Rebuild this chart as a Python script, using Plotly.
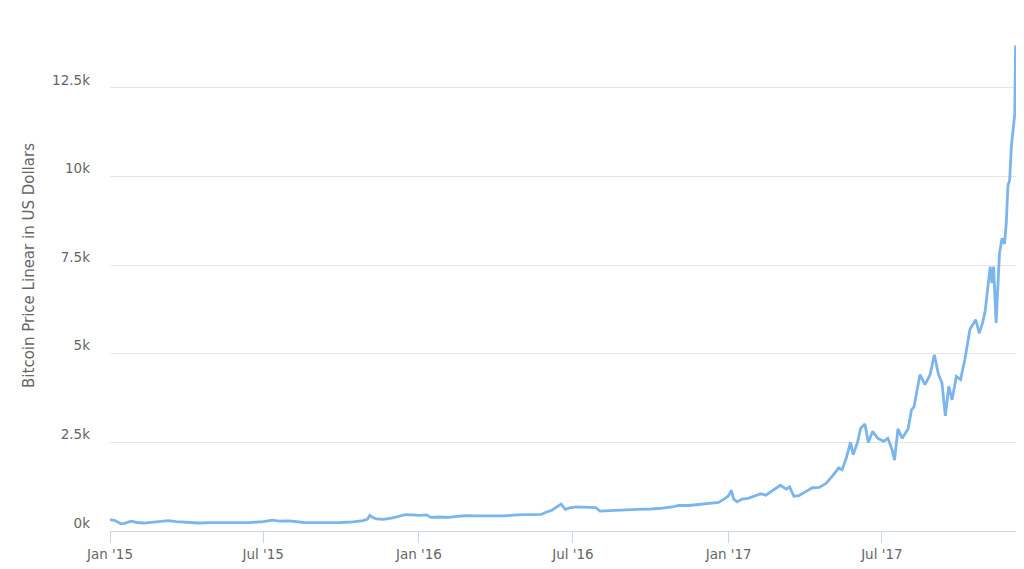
import plotly.graph_objects as go

dates = [
    "2015-01-01", "2015-01-07", "2015-01-14", "2015-01-18", "2015-01-26", "2015-02-02",
    "2015-02-10", "2015-02-20", "2015-03-01", "2015-03-11", "2015-03-20", "2015-04-01",
    "2015-04-15", "2015-05-01", "2015-05-15", "2015-06-01", "2015-06-15", "2015-07-01",
    "2015-07-12", "2015-07-20", "2015-08-01", "2015-08-18", "2015-09-01", "2015-09-15",
    "2015-10-01", "2015-10-15", "2015-10-27", "2015-11-01", "2015-11-04", "2015-11-07",
    "2015-11-12", "2015-11-20", "2015-12-01", "2015-12-10", "2015-12-16", "2015-12-25",
    "2016-01-01", "2016-01-10", "2016-01-15", "2016-01-25", "2016-02-05", "2016-02-15",
    "2016-02-25", "2016-03-10", "2016-03-25", "2016-04-10", "2016-04-25", "2016-05-10",
    "2016-05-25", "2016-05-30", "2016-06-06", "2016-06-12", "2016-06-17", "2016-06-22",
    "2016-06-27", "2016-07-05", "2016-07-15", "2016-07-28", "2016-08-02", "2016-08-15",
    "2016-09-01", "2016-09-15", "2016-10-01", "2016-10-15", "2016-10-28", "2016-11-03",
    "2016-11-15", "2016-11-28", "2016-12-10", "2016-12-20", "2016-12-27",
    "2017-01-01", "2017-01-04", "2017-01-07", "2017-01-11", "2017-01-17", "2017-01-24",
    "2017-02-01", "2017-02-08", "2017-02-14", "2017-02-24", "2017-03-03", "2017-03-10",
    "2017-03-14", "2017-03-19", "2017-03-25", "2017-04-02", "2017-04-10", "2017-04-18",
    "2017-04-26", "2017-05-04", "2017-05-11", "2017-05-15", "2017-05-20", "2017-05-25",
    "2017-05-28", "2017-06-02", "2017-06-06", "2017-06-11", "2017-06-15", "2017-06-20",
    "2017-06-26", "2017-07-03", "2017-07-08", "2017-07-13", "2017-07-16", "2017-07-20",
    "2017-07-25", "2017-08-01", "2017-08-05", "2017-08-08", "2017-08-15", "2017-08-21",
    "2017-08-27", "2017-09-01", "2017-09-06", "2017-09-10", "2017-09-14", "2017-09-18",
    "2017-09-22", "2017-09-27", "2017-10-02", "2017-10-07", "2017-10-13", "2017-10-15",
    "2017-10-20", "2017-10-24", "2017-10-28", "2017-10-31", "2017-11-04", "2017-11-06",
    "2017-11-08", "2017-11-10", "2017-11-13", "2017-11-17", "2017-11-20", "2017-11-23",
    "2017-11-25", "2017-11-27", "2017-11-29", "2017-12-01", "2017-12-03", "2017-12-05",
    "2017-12-06",
]

prices = [
    320, 295, 200, 215, 275, 240,
    225, 250, 262, 295, 265, 250,
    225, 235, 240, 228, 240, 262,
    305, 280, 285, 240, 232, 235,
    240, 258, 295, 330, 440, 385,
    340, 330, 370, 420, 460, 455,
    440, 455, 385, 395, 385, 410,
    430, 425, 420, 425, 455, 460,
    470, 530, 585, 680, 760, 610,
    650, 680, 670, 660, 560, 580,
    585, 610, 620, 645, 690, 725,
    720, 745, 775, 805, 905,
    1000, 1150, 900, 820, 900, 920,
    980, 1050, 1010, 1170, 1290, 1180,
    1245, 980, 1000, 1110, 1220, 1230,
    1340, 1560, 1780, 1730, 2060, 2500,
    2150, 2480, 2900, 3020, 2500, 2810,
    2620, 2530, 2620, 2300, 2000, 2880,
    2620, 2880, 3420, 3500, 4410, 4130,
    4410, 4970, 4410, 4180, 3250, 4080,
    3700, 4360, 4270, 4830, 5680, 5770,
    5960, 5580, 5870, 6190, 7135, 7460,
    6990, 7460, 5870, 7840, 8260, 8100,
    8700, 9750, 9900, 10850, 11300, 11750,
    13700,
]

y_tick_values = [0, 2500, 5000, 7500, 10000, 12500]
y_tick_labels = ["0k", "2.5k", "5k", "7.5k", "10k", "12.5k"]
x_tick_values = ["2015-01-01", "2015-07-01", "2016-01-01", "2016-07-01", "2017-01-01", "2017-07-01"]
x_tick_labels = ["Jan '15", "Jul '15", "Jan '16", "Jul '16", "Jan '17", "Jul '17"]

fig = go.Figure()
fig.add_trace(go.Scatter(
    x=dates, y=prices, mode="lines",
    line=dict(color="#7cb5ec", width=2.8),
    hoverinfo="skip", showlegend=False,
))

font_family = "DejaVu Sans, Open Sans, sans-serif"

fig.update_layout(
    width=1024, height=569,
    margin=dict(l=110, r=8, t=0, b=38, autoexpand=False),
    paper_bgcolor="white", plot_bgcolor="white",
    font=dict(family=font_family, color="#666666", size=13),
    xaxis=dict(
        range=["2015-01-01", "2017-12-06 12:00"],
        tickvals=x_tick_values, ticktext=x_tick_labels,
        showgrid=False, zeroline=False, automargin=False,
        showline=True, linecolor="#ccd6eb", linewidth=1,
        ticks="outside", ticklen=11, tickcolor="#ccd6eb", tickwidth=1,
        tickfont=dict(size=13.5, color="#666666"),
    ),
    yaxis=dict(
        range=[0, 14980],
        tickvals=y_tick_values, ticktext=y_tick_labels,
        showgrid=True, gridcolor="#e6e6e6", gridwidth=1,
        zeroline=False, showline=False, automargin=False,
        ticks="", ticklabelstandoff=19, ticklabelshift=-8,
        tickfont=dict(size=13.5, color="#666666"),
        title=dict(text="Bitcoin Price Linear in US Dollars",
                   font=dict(size=15, color="#666666"), standoff=13),
    ),
)

fig.write_html(
    "out.html",
    config={"displayModeBar": False},
    post_script="document.body.style.margin='0';document.body.style.overflow='hidden';",
)
